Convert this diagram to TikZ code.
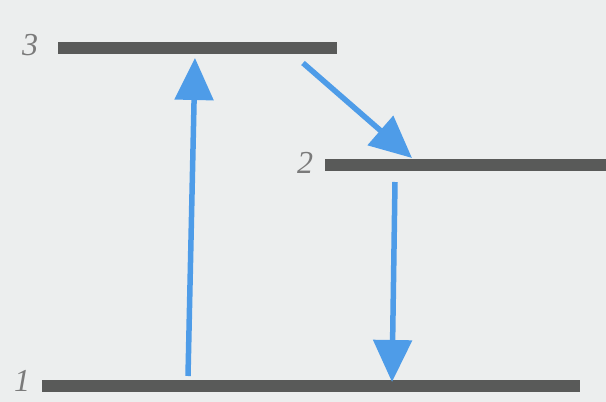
\documentclass[tikz,border=0pt]{standalone}
\usepackage{fontspec}
\setmainfont{Liberation Serif}
\usetikzlibrary{arrows.meta}
\definecolor{bg}{HTML}{ECEEEE}
\definecolor{bar}{HTML}{595A59}
\definecolor{arr}{HTML}{4E9CE8}
\definecolor{lab}{HTML}{7A7A7A}
\tikzset{
  level/.style={fill=bar, inner sep=0pt, minimum height=12pt},
  lab/.style={text=lab, font=\fontsize{32}{32}\selectfont\itshape, inner sep=0pt},
  trans/.style={draw=arr, line width=5.5pt, -{Triangle[width=38pt,length=42pt]}}
}
\begin{document}
\begin{tikzpicture}[x=1pt,y=-1pt]
\fill[bg] (0,0) rectangle (606,402);
\useasboundingbox (0,0) rectangle (606,402);
\node[level, minimum width=279pt, anchor=west] (L3) at (58,48) {};
\node[level, minimum width=281pt, anchor=west] (L2) at (325,165) {};
\node[level, minimum width=538pt, anchor=west] (L1) at (42,386) {};
\node[lab] (n3) at (30,45) {3};
\node[lab] (n2) at (305,163) {2};
\node[lab] (n1) at (22,381) {1};
\coordinate (a1s) at (188,376);
\coordinate (a1e) at (195,58);
\coordinate (a2s) at (303,63);
\coordinate (a2e) at (412,158);
\coordinate (a3s) at (395,182);
\coordinate (a3e) at (392,382);
\draw[trans] (a1s) -- (a1e);
\draw[trans] (a2s) -- (a2e);
\draw[trans] (a3s) -- (a3e);
\end{tikzpicture}
\end{document}
